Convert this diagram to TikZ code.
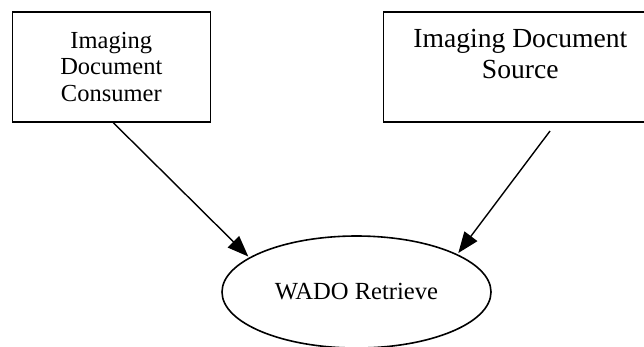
\documentclass[tikz,border=0pt]{standalone}
\usepackage{fontspec}
\setmainfont{Liberation Serif}
\usetikzlibrary{shapes.geometric,arrows.meta}
\begin{document}
\begin{tikzpicture}[x=1pt,y=-1pt,
  boxnode/.style={draw,line width=1.6pt,rectangle,inner sep=0pt},
  ellnode/.style={draw,line width=1.6pt,ellipse,inner sep=0pt},
  arr/.style={line width=1.4pt,-{Triangle[length=21pt,width=16pt]}}]
\useasboundingbox (0,0) rectangle (644,346);
\clip (0,0) rectangle (644,346);
\node[boxnode,minimum width=198pt,minimum height=110pt,align=center,
  font=\fontsize{24.5pt}{26.7pt}\selectfont] (cons) at (111.3,66.9)
  {Imaging\\Document\\Consumer};
\node[boxnode,minimum width=274pt,minimum height=110pt] (src) at (520.3,66.9)
  {\parbox[c][110pt][t]{270pt}{\centering\fontsize{27.6pt}{31.3pt}\selectfont\vspace{17.2pt}Imaging Document\\Source}};
\node[ellnode,minimum width=269pt,minimum height=112pt,
  font=\fontsize{24.6pt}{28pt}\selectfont] (wado) at (356.5,292) {WADO Retrieve};
\coordinate (lt) at (248.3,256.5);
\coordinate (rs) at (550,131);
\coordinate (rt) at (458.3,253);
\draw[arr] ([xshift=2pt]cons.south) -- (lt);
\draw[arr] (rs) -- (rt);
\end{tikzpicture}
\end{document}
